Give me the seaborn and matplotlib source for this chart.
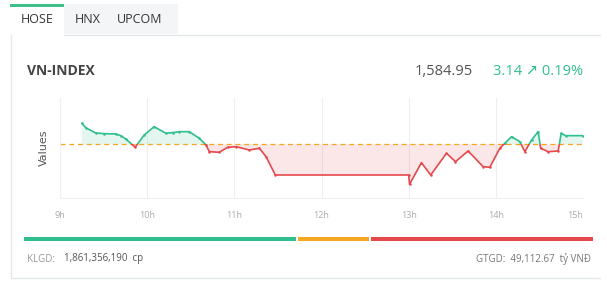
import numpy as np
import pandas as pd
import matplotlib
matplotlib.use("Agg")
import matplotlib.pyplot as plt
from matplotlib.patches import Rectangle
import seaborn as sns

# ---------------- data ----------------
ref_value = 1581.81
close_value = 1584.95
change = 3.14
change_pct = 0.19

times = [9.25, 9.30, 9.41, 9.50, 9.64, 9.70, 9.755, 9.862, 9.966, 10.08, 10.215,
         10.30, 10.368, 10.483, 10.598, 10.675, 10.713, 10.828, 10.923, 11.02,
         11.172, 11.287, 11.364, 11.47, 13.0, 13.01, 13.146, 13.253, 13.434,
         13.537, 13.682, 13.854, 13.931, 14.046, 14.103, 14.18, 14.276, 14.333,
         14.41, 14.486, 14.514, 14.60, 14.715, 14.75, 14.80, 15.0]
values = [1589.48, 1587.76, 1585.93, 1585.70, 1585.57, 1584.90, 1583.74, 1580.71,
          1585.20, 1588.23, 1585.83, 1586.10, 1586.41, 1586.41, 1584.00, 1581.55,
          1579.11, 1578.89, 1580.71, 1580.93, 1579.73, 1580.35, 1577.28, 1570.60,
          1570.60, 1567.21, 1575.09, 1570.60, 1578.52, 1575.46, 1579.36, 1573.63,
          1573.41, 1580.35, 1582.18, 1584.58, 1582.76, 1579.11, 1583.38, 1586.41,
          1580.35, 1579.11, 1579.36, 1585.80, 1584.95, 1584.95]

hour_ticks = [9, 10, 11, 12, 13, 14, 15]
hour_labels = ["9h", "10h", "11h", "12h", "13h", "14h", "15h"]

tabs = ["HOSE", "HNX", "UPCOM"]
breadth_labels = ["up", "unchanged", "down"]
breadth_values = [270, 72, 221]
klgd_text = "1,861,356,190"
gtgd_text = "49,112.67"

# ---------------- styling ----------------
GREEN = "#2fbf8c"
RED = "#e5484d"
ORANGE = "#f5a623"
W, H = 607, 298

sns.set_theme(style="white")
plt.rcParams["font.family"] = ["Open Sans", "DejaVu Sans"]

fig = plt.figure(figsize=(W / 100, H / 100), dpi=100)
fig.patch.set_facecolor("white")


def fx(px):
    return px / W


def fy(py):
    return 1 - py / H


# tabs
fig.patches.append(Rectangle((fx(64), fy(34)), fx(178) - fx(64), fy(4) - fy(34),
                             transform=fig.transFigure, facecolor="#f4f5f6",
                             edgecolor="none", zorder=0))
fig.patches.append(Rectangle((fx(10), fy(6.5)), fx(64) - fx(10), fy(4) - fy(6.5),
                             transform=fig.transFigure, facecolor="#3dbf8a",
                             edgecolor="none", zorder=1))
# card border
fig.lines.append(plt.Line2D([fx(64), fx(600)], [fy(35), fy(35)], transform=fig.transFigure,
                            color="#e3e6ea", lw=1))
fig.lines.append(plt.Line2D([fx(10.5), fx(10.5)], [fy(35), fy(278)], transform=fig.transFigure,
                            color="#e3e6ea", lw=1))
fig.lines.append(plt.Line2D([fx(10.5), fx(600)], [fy(278), fy(278)], transform=fig.transFigure,
                            color="#e3e6ea", lw=1))

for name, cx in zip(tabs, [37, 88, 140]):
    fig.text(fx(cx), fy(19.5), name, ha="center", va="center", fontsize=9,
             color="#333333")

# header
fig.text(fx(27), fy(71), "VN-INDEX", ha="left", va="center", fontsize=10,
         fontweight="bold", color="#444444")
fig.text(fx(473), fy(71.5), f"{close_value:,.2f}", ha="right", va="center",
         fontsize=10.5, color="#555555")
fig.text(fx(583), fy(71.5), f"{change:.2f} \u2197 {change_pct:.2f}%", ha="right",
         va="center", fontsize=10.5, color=GREEN,
         family=["Open Sans", "DejaVu Sans"])

# ---------------- main chart ----------------
ax = fig.add_axes([fx(60), fy(198), fx(583) - fx(60), fy(98) - fy(198)])
df = pd.DataFrame({"time": times, "value": values})
ymin, ymax = 1562.2, 1598.7
ax.set_xlim(9, 15)
ax.set_ylim(ymin, ymax)

t = np.array(times)
v = np.array(values)
ax.fill_between(t, v, ref_value, where=v >= ref_value, interpolate=True,
                color=GREEN, alpha=0.13, lw=0)
ax.fill_between(t, v, ref_value, where=v <= ref_value, interpolate=True,
                color=RED, alpha=0.13, lw=0)

sns.lineplot(data=df, x="time", y="value", ax=ax, color=GREEN, lw=1.2,
             marker="o", markersize=1.8, markeredgewidth=0)
l_up = ax.lines[-1]
l_up.set_clip_path(Rectangle((9, ref_value), 6, ymax - ref_value, transform=ax.transData))
sns.lineplot(data=df, x="time", y="value", ax=ax, color=RED, lw=1.2,
             marker="o", markersize=1.8, markeredgewidth=0)
l_dn = ax.lines[-1]
l_dn.set_clip_path(Rectangle((9, ymin), 6, ref_value - ymin, transform=ax.transData))

ax.axhline(ref_value, color=ORANGE, lw=0.9, ls=(0, (4, 3)), zorder=1)

ax.set_xticks(hour_ticks)
ax.set_xticklabels(hour_labels)
ax.set_yticks([])
ax.grid(axis="x", color="#eeeeee", lw=0.8)
ax.grid(axis="y", visible=False)
ax.tick_params(axis="x", colors="#aaaaaa", labelsize=6.5, length=0, pad=9)
xls = ax.get_xticklabels()
for lab in xls:
    lab.set_color("#aaaaaa")
xls[-1].set_horizontalalignment("right")
ax.set_xlabel("")
ax.set_ylabel("Values", fontsize=8, color="#555555", family="DejaVu Sans", labelpad=8)
for side in ["top", "right"]:
    ax.spines[side].set_visible(False)
for side in ["left", "bottom"]:
    ax.spines[side].set_color("#f0f0f0")
    ax.spines[side].set_linewidth(0.8)
ax.set_facecolor("white")

# ---------------- breadth bar ----------------
bax = fig.add_axes([fx(24), fy(241), fx(595) - fx(24), fy(237) - fy(241)])
total = sum(breadth_values)
left = 0
for lab, val, col in zip(breadth_labels, breadth_values, [GREEN, ORANGE, RED]):
    bax.barh([0], [val - total * 0.004], left=left, color=col, height=1, lw=0)
    left += val
bax.set_xlim(0, total)
bax.set_ylim(-0.5, 0.5)
bax.axis("off")

fig.text(fx(27), fy(259), "KLGD:  ", ha="left", va="center", fontsize=7, color="#999999")
fig.text(fx(64), fy(259), f"{klgd_text}  cp", ha="left", va="center", fontsize=7,
         color="#555555")
fig.text(fx(591), fy(259), f"GTGD:  {gtgd_text}  tỷ VNĐ", ha="right", va="center",
         fontsize=7, color="#777777")

fig.savefig("out.png", dpi=100, facecolor="white")
